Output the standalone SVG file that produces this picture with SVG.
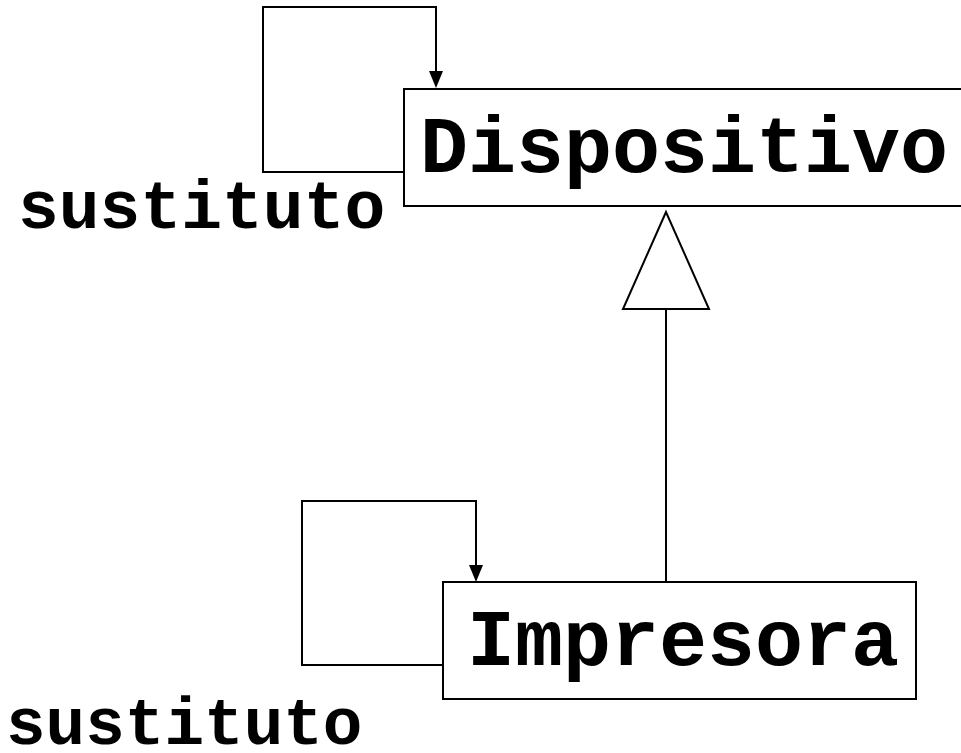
<svg xmlns="http://www.w3.org/2000/svg" width="961" height="753" viewBox="0 0 961 753">
<defs>
<style>
.box{fill:#fff;stroke:#000;stroke-width:2}
.ln{fill:none;stroke:#000;stroke-width:2}
.lbl{font-family:"Liberation Mono","Courier New",monospace;font-weight:bold;fill:#000}
</style>
</defs>
<rect width="961" height="753" fill="#fff"/>
<g id="connectors">
<path class="ln" d="M404,172 H263 V7 H436 V71"/>
<path d="M429,71 L443,71 L436,88 Z" fill="#000"/>
<path class="ln" d="M443,665 H302 V501 H476 V565"/>
<path d="M469,565 L483,565 L476,582 Z" fill="#000"/>
<line class="ln" x1="666" y1="309" x2="666" y2="582"/>
<path class="ln" d="M666,212 L623,309 H709 Z" fill="#fff"/>
</g>
<g id="dispositivo">
<rect class="box" x="404" y="89" width="580" height="117"/>
<text class="lbl" x="420" y="172" font-size="80">Dispositivo</text>
</g>
<g id="impresora">
<rect class="box" x="443" y="582" width="473" height="117"/>
<text class="lbl" x="467" y="665" font-size="80">Impresora</text>
</g>
<text class="lbl" x="18" y="228" font-size="68">sustituto</text>
<text class="lbl" x="6" y="744" font-size="66">sustituto</text>
</svg>
